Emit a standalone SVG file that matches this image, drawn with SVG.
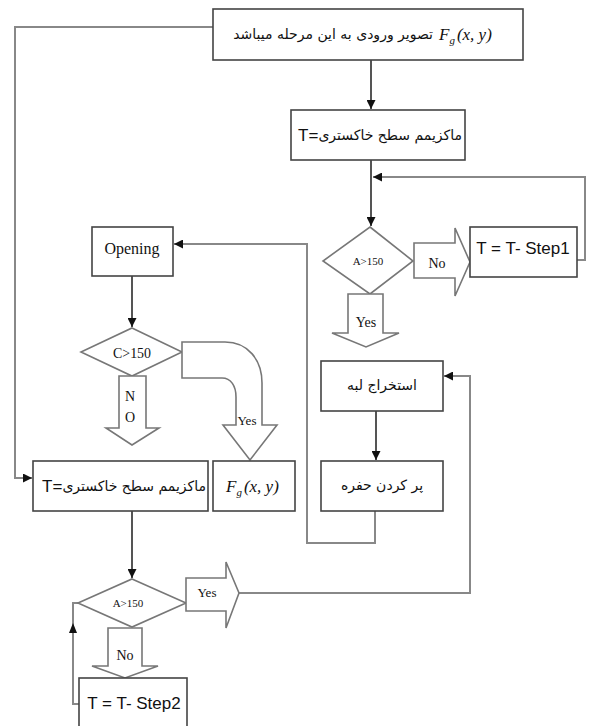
<svg xmlns="http://www.w3.org/2000/svg" width="591" height="726" viewBox="0 0 591 726">
<style>
.box{fill:#fff;stroke:#444;stroke-width:1.6}
.conn{fill:none;stroke:#888;stroke-width:2}
.blk{fill:#fff;stroke:#777;stroke-width:1.6;stroke-linejoin:miter}
.fa{font-family:"DejaVu Sans",sans-serif;font-size:14px;fill:#111}
.ss{font-family:"Liberation Sans",Arial,sans-serif;font-size:17px;fill:#111}
.sr{font-family:"Liberation Serif","Times New Roman",serif;fill:#111}
.it{font-family:"Liberation Serif","Times New Roman",serif;font-style:italic;fill:#111}
</style>
<defs>
<marker id="ah" viewBox="0 0 10 10" refX="10" refY="5" markerWidth="10" markerHeight="9" markerUnits="userSpaceOnUse" orient="auto">
<path d="M0,0 L10,5 L0,10 Z" fill="#111"/>
</marker>
</defs>

<g id="connectors">
<polyline class="conn" points="213,27 15,27 15,478 32,478" marker-end="url(#ah)"/>
<line class="conn" x1="371" y1="60" x2="371" y2="109" marker-end="url(#ah)" style="stroke:#555"/>
<line class="conn" x1="371" y1="160" x2="371" y2="226" marker-end="url(#ah)" style="stroke:#555"/>
<polyline class="conn" points="577,260 585,260 585,177 373,177" marker-end="url(#ah)"/>
<polyline class="conn" points="375,511 375,543 307,543 307,244 174,244" marker-end="url(#ah)"/>
<line class="conn" x1="132" y1="276" x2="132" y2="327" marker-end="url(#ah)" style="stroke:#555"/>
<line class="conn" x1="376" y1="411" x2="376" y2="460" marker-end="url(#ah)" style="stroke:#555"/>
<line class="conn" x1="132" y1="511" x2="132" y2="578" marker-end="url(#ah)" style="stroke:#555"/>
<polyline class="conn" points="239,593 470,593 470,376 444,376" marker-end="url(#ah)"/>
<polyline class="conn" points="79,704 73,704 73,603 78,603"/>
<path d="M73,623 L69,633 L77,633 Z" fill="#111"/>
</g>

<g id="n_input">
<rect class="box" x="213" y="9" width="310" height="51"/>
<text class="fa" x="433" y="39" text-anchor="end">تصویر ورودی به این مرحله  میباشد</text>
<text class="it" x="439" y="40" font-size="17">F<tspan font-size="11" dy="4">g</tspan><tspan dy="-4" dx="2">(x, y)</tspan></text>
</g>

<g id="n_max1">
<rect class="box" x="291" y="110" width="174" height="50"/>
<text class="ss" x="298" y="141">T=</text>
<text class="fa" x="462" y="140" font-size="13" text-anchor="end">ماکزیمم سطح خاکستری</text>
</g>

<g id="n_dec1">
<polygon class="blk" points="370,227 413,261 370,294 323,261"/>
<text class="sr" x="368" y="265" font-size="11" text-anchor="middle">A&gt;150</text>
</g>

<g id="n_no1">
<polygon class="blk" points="414,243 455,243 455,228 470,262 455,296 455,278 414,278"/>
<text class="sr" x="437" y="268" font-size="14" text-anchor="middle">No</text>
</g>

<g id="n_step1">
<rect class="box" x="470" y="227" width="107" height="50"/>
<text class="ss" x="523" y="254" text-anchor="middle">T = T- Step1</text>
</g>

<g id="n_yes1">
<polygon class="blk" points="348,294 383,294 383,333 399,333 366,347 332,333 348,333"/>
<text class="sr" x="366" y="327" font-size="14" text-anchor="middle">Yes</text>
</g>

<g id="n_opening">
<rect class="box" x="92" y="227" width="81" height="49"/>
<text class="sr" x="132" y="254" font-size="16" text-anchor="middle">Opening</text>
</g>

<g id="n_dec2">
<polygon class="blk" points="132,328 182,352 132,376 81,352"/>
<text class="sr" x="132" y="358" font-size="15" text-anchor="middle" textLength="38" lengthAdjust="spacingAndGlyphs">C&gt;150</text>
</g>

<g id="n_no2">
<polygon class="blk" points="119,376 146,376 146,428 159,428 132,445 106,428 119,428"/>
<text class="sr" x="130" y="401" font-size="14" text-anchor="middle">N</text>
<text class="sr" x="130" y="422" font-size="14" text-anchor="middle">O</text>
</g>

<g id="n_yes2">
<path class="blk" d="M182,342 L225,342 C248,342 262,360 262,383 L262,425 L277,425 L250,460 L223,425 L236,425 L236,397 C236,386 231,378 222,378 L182,378 Z"/>
<text class="sr" x="247" y="425" font-size="13" text-anchor="middle">Yes</text>
</g>

<g id="n_edge">
<rect class="box" x="321" y="361" width="122" height="50"/>
<text class="fa" x="382" y="390" text-anchor="middle">استخراج لبه</text>
</g>

<g id="n_fill">
<rect class="box" x="321" y="461" width="122" height="50"/>
<text class="fa" x="382" y="490" text-anchor="middle">پر کردن حفره</text>
</g>

<g id="n_max2">
<rect class="box" x="33" y="461" width="175" height="50"/>
<text class="ss" x="42" y="492">T=</text>
<text class="fa" x="206" y="491" font-size="13" text-anchor="end">ماکزیمم سطح خاکستری</text>
</g>

<g id="n_out">
<rect class="box" x="213" y="461" width="82" height="50"/>
<text class="it" x="226" y="492" font-size="17">F<tspan font-size="11" dy="4">g</tspan><tspan dy="-4" dx="2">(x, y)</tspan></text>
</g>

<g id="n_dec3">
<polygon class="blk" points="132,579 186,603 132,627 78,603"/>
<text class="sr" x="128" y="607" font-size="11" text-anchor="middle">A&gt;150</text>
</g>

<g id="n_yes3">
<polygon class="blk" points="186,578 226,578 226,562 239,593 226,628 226,611 186,611"/>
<text class="sr" x="207" y="597" font-size="13" text-anchor="middle">Yes</text>
</g>

<g id="n_no3">
<polygon class="blk" points="108,628 142,628 142,666 158,666 125,678 92,666 108,666"/>
<text class="sr" x="125" y="660" font-size="14" text-anchor="middle">No</text>
</g>

<g id="n_step2">
<rect class="box" x="79" y="678" width="108" height="60"/>
<text class="ss" x="134" y="709" text-anchor="middle">T = T- Step2</text>
</g>
</svg>
